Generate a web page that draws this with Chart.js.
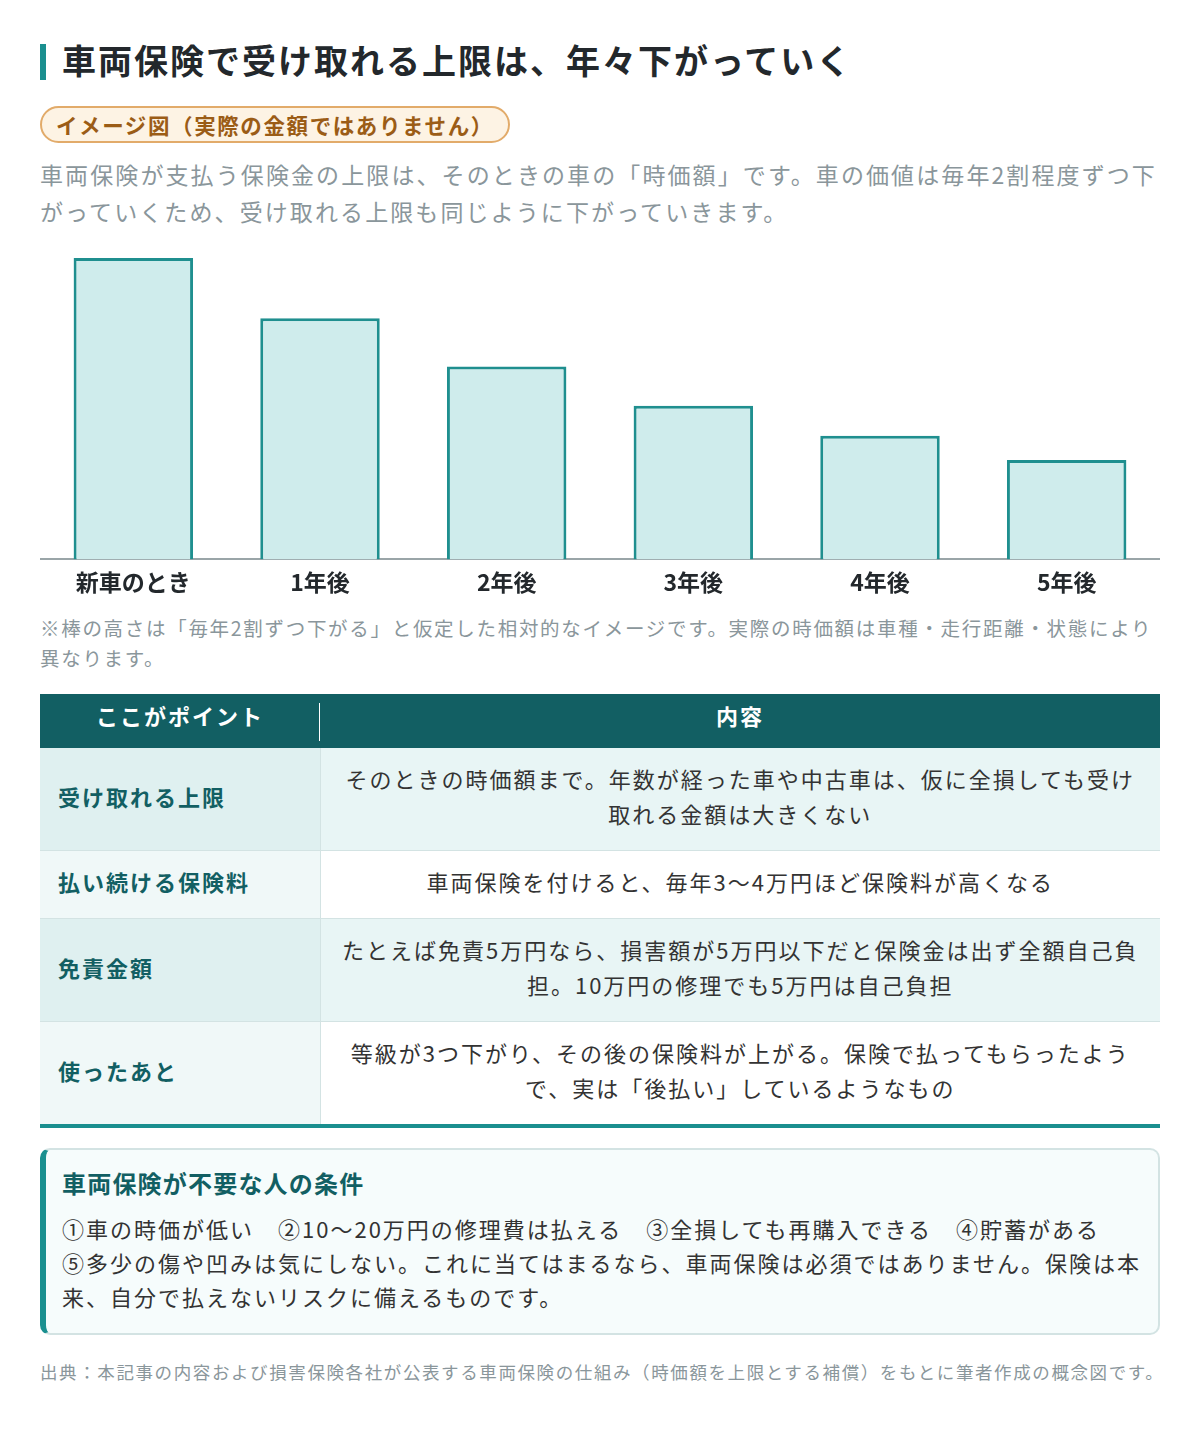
<!DOCTYPE html>
<html lang="ja">
<head>
<meta charset="utf-8">
<script src="https://cdn.jsdelivr.net/npm/chart.js@4/dist/chart.umd.min.js"></script>
<style>
  * { box-sizing: border-box; }
  body {
    margin: 0;
    background: #fff;
    font-family: "Noto Sans CJK JP", "Noto Sans", sans-serif;
    color: #333;
  }
  .page { width: 1200px; padding: 44px 40px 40px; }
  h1 {
    margin: 0;
    font-size: 34px;
    line-height: 36px;
    font-weight: 700;
    color: #23282c;
    border-left: 6px solid #1a8f8f;
    padding-left: 16px;
    letter-spacing: 2px;
  }
  h1 span { position: relative; top: -2px; }
  .badge {
    display: inline-block;
    margin-top: 26px;
    padding: 3px 14px;
    border: 2px solid #e2ab6a;
    border-radius: 20px;
    background: #fdf3e4;
    color: #9b5c16;
    font-size: 21.5px;
    line-height: 27px;
    font-weight: 700;
    letter-spacing: 1.6px;
  }
  .desc {
    margin: 13px 0 0;
    font-size: 23px;
    line-height: 37px;
    color: #8a969b;
    letter-spacing: 2.1px;
  }
  .chart-wrap { position: relative; width: 1120px; height: 353px; margin-top: 14px; }
  .note {
    margin: 16px 0 0;
    font-size: 19.5px;
    line-height: 30px;
    color: #8a969b;
    letter-spacing: 1.7px;
  }
  table {
    width: 1120px;
    margin-top: 21px;
    border-collapse: collapse;
    border-bottom: 4px solid #1a8f8f;
  }
  th {
    background: #125f63;
    color: #fff;
    font-size: 22px;
    font-weight: 700;
    line-height: 28px;
    padding: 7px 10px 19px;
    text-align: center;
    letter-spacing: 2px;
    position: relative;
  }
  th.first::after {
    content: "";
    position: absolute;
    right: 0; top: 9px; bottom: 7px;
    width: 1px;
    background: #fff;
  }
  td {
    font-size: 22px;
    line-height: 35px;
    padding: 13px 20px 19px;
    border-bottom: 1px solid #d3e3e3;
    letter-spacing: 2px;
  }
  td.k {
    width: 280px;
    font-weight: 700;
    color: #125f63;
    padding-left: 18px;
    border-right: 1px solid #d3e3e3;
    vertical-align: middle;
  }
  td.v { text-align: center; color: #333; }
  tr.odd td.k { background: #dff0f0; }
  tr.odd td.v { background: #e8f5f5; }
  tr.even td.k { background: #f0f8f8; }
  tr.even td.v { background: #fff; }
  tr:last-child td { border-bottom: none; }
  .box {
    margin-top: 20px;
    border: 2px solid #d3e3e3;
    border-left: 6px solid #1a8f8f;
    border-radius: 10px;
    background: #f6fcfc;
    padding: 16px 16px 20px 16px;
  }
  .box h2 {
    margin: 0;
    font-size: 24px;
    line-height: 34px;
    color: #125f63;
    font-weight: 700;
    letter-spacing: 1.2px;
  }
  .box p {
    margin: 11px 0 0;
    font-size: 22px;
    line-height: 34px;
    color: #333;
    letter-spacing: 2px;
  }
  .src {
    margin: 24px 0 0;
    font-size: 17.5px;
    line-height: 26px;
    color: #8a969b;
    letter-spacing: 1.6px;
    white-space: nowrap;
  }
</style>
</head>
<body>
<div class="page">
  <h1><span>車両保険で受け取れる上限は、年々下がっていく</span></h1>
  <div class="badge">イメージ図（実際の金額ではありません）</div>
  <p class="desc">車両保険が支払う保険金の上限は、そのときの車の「時価額」です。車の価値は毎年2割程度ずつ下がっていくため、受け取れる上限も同じように下がっていきます。</p>
  <div class="chart-wrap"><canvas id="chart"></canvas></div>
  <p class="note">※棒の高さは「毎年2割ずつ下がる」と仮定した相対的なイメージです。実際の時価額は車種・走行距離・状態により異なります。</p>

  <table>
    <thead>
      <tr><th class="first">ここがポイント</th><th>内容</th></tr>
    </thead>
    <tbody id="tbody"></tbody>
  </table>

  <div class="box">
    <h2>車両保険が不要な人の条件</h2>
    <p>①車の時価が低い　②10〜20万円の修理費は払える　③全損しても再購入できる　④貯蓄がある<br>⑤多少の傷や凹みは気にしない。これに当てはまるなら、車両保険は必須ではありません。保険は本来、自分で払えないリスクに備えるものです。</p>
  </div>

  <p class="src">出典：本記事の内容および損害保険各社が公表する車両保険の仕組み（時価額を上限とする補償）をもとに筆者作成の概念図です。</p>
</div>

<script>
// bar chart data (relative height, new car = 100)
const years = ['新車のとき', '1年後', '2年後', '3年後', '4年後', '5年後'];
const values = [100, 80, 64, 51, 41, 33];

// table rows
const points = ['受け取れる上限', '払い続ける保険料', '免責金額', '使ったあと'];
const details = [
  'そのときの時価額まで。年数が経った車や中古車は、仮に全損しても受け取れる金額は大きくない',
  '車両保険を付けると、毎年3〜4万円ほど保険料が高くなる',
  'たとえば免責5万円なら、損害額が5万円以下だと保険金は出ず全額自己負担。10万円の修理でも5万円は自己負担',
  '等級が3つ下がり、その後の保険料が上がる。保険で払ってもらったようで、実は「後払い」しているようなもの'
];

const tbody = document.getElementById('tbody');
points.forEach((p, i) => {
  const tr = document.createElement('tr');
  tr.className = i % 2 === 0 ? 'odd' : 'even';
  tr.innerHTML = `<td class="k">${p}</td><td class="v">${details[i]}</td>`;
  tbody.appendChild(tr);
});

const FONT = '"Noto Sans CJK JP", "Noto Sans", sans-serif';

new Chart(document.getElementById('chart'), {
  type: 'bar',
  data: {
    labels: years,
    datasets: [{
      data: values,
      backgroundColor: '#cfecec',
      borderColor: '#1f8f8f',
      borderWidth: 3,
      categoryPercentage: 0.64,
      barPercentage: 1
    }]
  },
  options: {
    responsive: true,
    maintainAspectRatio: false,
    animation: false,
    layout: { padding: { top: 14, left: 0, right: 0, bottom: 0 } },
    plugins: {
      legend: { display: false },
      tooltip: { enabled: false }
    },
    scales: {
      y: { display: false, min: 0, max: 100 },
      x: {
        grid: { display: false },
        border: { color: '#9aa5a8', width: 2 },
        ticks: {
          color: '#23282c',
          padding: 1,
          font: { family: FONT, size: 23, weight: 'bold' }
        }
      }
    }
  }
});
</script>
</body>
</html>
